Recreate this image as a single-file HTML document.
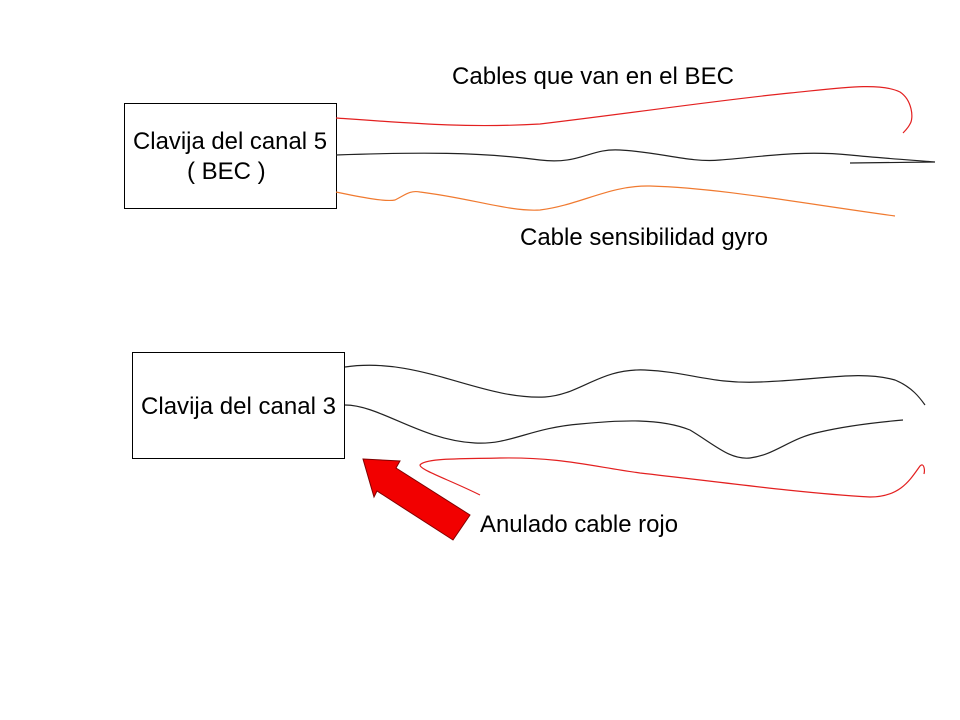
<!DOCTYPE html>
<html><head><meta charset="utf-8"><style>
html,body{margin:0;padding:0;background:#fff;}
svg{display:block;}
text{font-family:"Liberation Sans",Arial,sans-serif;font-size:24px;fill:#000;}
</style></head><body>
<svg width="960" height="720" viewBox="0 0 960 720" xmlns="http://www.w3.org/2000/svg">
<rect x="124.5" y="103.5" width="212" height="105" fill="#fff" stroke="#000" stroke-width="1"/>
<text x="133" y="149" textLength="194" lengthAdjust="spacingAndGlyphs">Clavija del canal 5</text>
<text x="187" y="179">( BEC )</text>
<rect x="132.5" y="352.5" width="212" height="106" fill="#fff" stroke="#000" stroke-width="1"/>
<text x="141" y="414" textLength="195" lengthAdjust="spacingAndGlyphs">Clavija del canal 3</text>
<text x="452" y="84" textLength="282" lengthAdjust="spacingAndGlyphs">Cables que van en el BEC</text>
<text x="520" y="245" textLength="248" lengthAdjust="spacingAndGlyphs">Cable sensibilidad gyro</text>
<text x="480" y="532" textLength="198" lengthAdjust="spacingAndGlyphs">Anulado cable rojo</text>
<g fill="none" stroke-width="1.2">
<path d="M336,118 C420,124 470,128 540,124 C640,112 720,100 790,93 C840,88 880,82 900,92 C912,100 914,118 910,124 C908,128 906,130 903,133" stroke="#e32020"/>
<path d="M336,155 C420,152 480,152 540,160 C580,165 590,148 620,150 C660,152 690,163 720,160 C760,157 800,150 850,155 C880,158 910,160 935,162 L850,163" stroke="#222"/>
<path d="M336,192 C360,197 385,202 395,200 C405,195 410,190 420,192 C470,198 510,212 540,210 C580,205 610,185 650,186 C720,188 800,203 895,216" stroke="#f07a30"/>
<path d="M345,367 C420,356 480,400 545,397 C580,395 600,368 645,370 C690,372 710,384 760,382 C820,380 860,370 895,380 C912,387 920,398 925,405" stroke="#222"/>
<path d="M345,405 C380,405 420,440 475,443 C510,445 530,428 580,424 C620,420 660,418 690,430 C715,445 730,460 750,458 C775,455 790,438 820,432 C850,425 880,422 903,420" stroke="#222"/>
<path d="M480,495 C450,480 420,470 420,465 C425,458 460,459 500,458 C560,457 590,466 640,473 C720,482 800,493 870,497 C900,497 910,480 920,466 C924,462 925,470 924,474" stroke="#e32020"/>
</g>
<polygon points="363,459 400,461 396,468 470,515 453,540 377,491 374,497" fill="#f20000" stroke="#800000" stroke-width="1"/>
</svg>
</body></html>
